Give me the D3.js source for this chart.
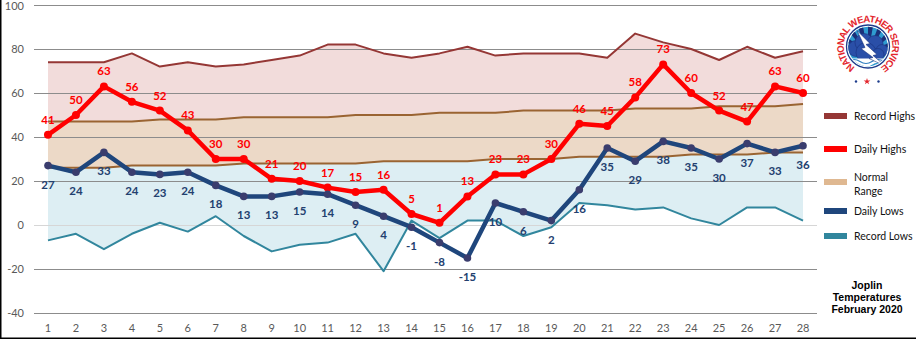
<!DOCTYPE html>
<html><head><meta charset="utf-8">
<script src="https://cdn.jsdelivr.net/npm/d3@7/dist/d3.min.js"></script>
<style>
html,body{margin:0;padding:0;background:#fff;}
svg{display:block;}
</style></head>
<body>
<svg id="chart" width="916" height="339"></svg>
<script>
const days = d3.range(1, 29);
const recordHighs = [74,74,74,78,72,74,72,73,75,77,82,82,78,76,78,81,77,78,78,78,76,87,83,80,75,81,76,79];
const normalHighs = [47,47,47,47,48,48,48,49,49,49,49,50,50,50,51,51,51,52,52,52,52,53,53,53,54,54,54,55];
const normalLows  = [26,26,26,27,27,27,27,28,28,28,28,28,29,29,29,29,30,30,30,31,31,31,31,32,32,32,33,33];
const recordLows  = [-7,-4,-11,-4,1,-3,4,-5,-12,-9,-8,-4,-21,2,-6,2,2,-5,-1,10,9,7,8,3,0,8,8,2];
const dailyHighs  = [41,50,63,56,52,43,30,30,21,20,17,15,16,5,1,13,23,23,30,46,45,58,73,60,52,47,63,60];
const dailyLows   = [27,24,33,24,23,24,18,13,13,15,14,9,4,-1,-8,-15,10,6,2,16,35,29,38,35,30,37,33,36];
const yTicks = [-40,-20,0,20,40,60,80,100];
const legendItems = [
  {name:["Record Highs"], color:"#953735"},
  {name:["Daily Highs"], color:"#ff0000"},
  {name:["Normal","Range"], color:"#dfb891"},
  {name:["Daily Lows"], color:"#1f467c"},
  {name:["Record Lows"], color:"#31869d"}
];
const titleLines = ["Joplin","Temperatures","February 2020"];

const svg = d3.select("#chart");
const x = d3.scaleBand().domain(days).range([34, 817]).padding(0);
const cx = d => x(d) + x.bandwidth()/2;
const y = d3.scaleLinear().domain([-40, 100]).range([313, 5]);

const rows = days.map((d,i)=>({d, rh:recordHighs[i], nh:normalHighs[i], nl:normalLows[i], rl:recordLows[i], hi:dailyHighs[i], lo:dailyLows[i]}));

// areas
const band = (top, bot, fill) => svg.append("path").datum(rows)
  .attr("fill", fill)
  .attr("d", d3.area().x(r=>cx(r.d)).y0(r=>y(r[bot])).y1(r=>y(r[top])));
band("rh","nh","#f2dcdb");
band("nh","nl","#ecd9c7");
band("nl","rl","#ddeef3");

// gridlines
svg.append("g").selectAll("line").data(yTicks).join("line")
  .attr("x1", 34).attr("x2", 817)
  .attr("y1", t=>Math.round(y(t))+0.5).attr("y2", t=>Math.round(y(t))+0.5)
  .attr("stroke", t=> t===0 ? "#d6d6d6" : "#8c8c8c").attr("stroke-width",1);

// y axis labels
svg.append("g").selectAll("text").data(yTicks).join("text")
  .attr("x", 24).attr("y", t=>Math.max(y(t), 6.5)).attr("dy","0.36em")
  .attr("text-anchor","end").attr("font-family","Lato, sans-serif").attr("font-size",11)
  .attr("fill","#595959").text(t=>t);

// x axis labels
svg.append("g").selectAll("text").data(days).join("text")
  .attr("x", d=>cx(d)).attr("y", 332)
  .attr("text-anchor","middle").attr("font-family","Lato, sans-serif").attr("font-size",11)
  .attr("fill","#595959").text(d=>d);

const line = key => d3.line().x(r=>cx(r.d)).y(r=>y(r[key]));
const drawLine = (key, color, w) => svg.append("path").datum(rows)
  .attr("fill","none").attr("stroke",color).attr("stroke-width",w)
  .attr("stroke-linejoin","round").attr("d", line(key));

drawLine("rh","#953735",2);
drawLine("nh","#9a6432",2);
drawLine("nl","#9a6432",2);
drawLine("rl","#31869d",2);

// daily highs
drawLine("hi","#ff0000",4.5);
svg.append("g").selectAll("circle").data(rows).join("circle")
  .attr("cx", r=>cx(r.d)).attr("cy", r=>y(r.hi)).attr("r",4).attr("fill","#ff0000");
// daily lows
drawLine("lo","#1f467c",4.5);
svg.append("g").selectAll("circle").data(rows).join("circle")
  .attr("cx", r=>cx(r.d)).attr("cy", r=>y(r.lo)).attr("r",3.8).attr("fill","#3a3d6e");

// data labels
svg.append("g").selectAll("text").data(rows).join("text")
  .attr("x", r=>cx(r.d)).attr("y", r=>y(r.hi)-11)
  .attr("text-anchor","middle").attr("font-family","Lato, sans-serif").attr("font-weight","bold")
  .attr("font-size",11.5).attr("fill","#ff0000").text(r=>r.hi);
svg.append("g").selectAll("text").data(rows).join("text")
  .attr("x", r=>cx(r.d)).attr("y", r=>y(r.lo)+23)
  .attr("text-anchor","middle").attr("font-family","Lato, sans-serif").attr("font-weight","bold")
  .attr("font-size",11.5).attr("fill","#23406f").text(r=>r.lo);

// legend
const legendTops = [113,146,179,208,233];
const lg = svg.append("g");
legendItems.forEach((it,i)=>{
  const t = legendTops[i];
  lg.append("rect").attr("x",824).attr("y",t).attr("width",23).attr("height",6).attr("fill",it.color);
  const tx = lg.append("text").attr("font-family","Lato, sans-serif").attr("font-size",10.5).attr("fill","#111");
  if (it.name.length===1) {
    tx.append("tspan").attr("x",854).attr("y",t+3).attr("dy","0.35em").text(it.name[0]);
  } else {
    tx.append("tspan").attr("x",854).attr("y",t-1.5).attr("dy","0.35em").text(it.name[0]);
    tx.append("tspan").attr("x",854).attr("y",t+12).attr("dy","0.35em").text(it.name[1]);
  }
});

// title
svg.append("g").selectAll("text").data(titleLines).join("text")
  .attr("x", 867).attr("y",(d,i)=>289+i*12.2)
  .attr("text-anchor","middle").attr("font-family","'Liberation Sans', Arial, sans-serif")
  .attr("font-weight","bold").attr("font-size",10.5).attr("fill","#000").text(d=>d);

// frame
svg.append("line").attr("x1",0.75).attr("x2",0.75).attr("y1",0).attr("y2",339).attr("stroke","#000").attr("stroke-width",1.5);
svg.append("line").attr("x1",0).attr("x2",916).attr("y1",338.25).attr("y2",338.25).attr("stroke","#000").attr("stroke-width",1.5);

// NWS logo
const L = svg.append("g").attr("transform","translate(868,46.5)");
const defs = svg.append("defs");
defs.append("clipPath").attr("id","lc").append("circle").attr("r",19.8);
L.append("circle").attr("r",21.5).attr("fill","#fff").attr("stroke","#1d3c8c").attr("stroke-width",1.3);
const inner = L.append("g").attr("clip-path","url(#lc)");
inner.append("rect").attr("x",-22).attr("y",-22).attr("width",44).attr("height",44).attr("fill","#2f9bd0");
// rays
for (let k=0;k<7;k++){
  const a0 = -150 + k*20, a1 = a0+10;
  const p = (a)=>[30*Math.cos(a*Math.PI/180), 8+30*Math.sin(a*Math.PI/180)];
  const [x0,y0]=p(a0),[x1,y1]=p(a1);
  inner.append("path").attr("d",`M0,8L${x0},${y0}L${x1},${y1}Z`).attr("fill","#1b2f78");
}
inner.append("circle").attr("cx",2).attr("cy",4).attr("r",9).attr("fill","#2f9bd0");
// cloud
const cloud = inner.append("g").attr("fill","#2a4fa8").attr("stroke","#1b3480").attr("stroke-width",0.6);
[[-12,2,8],[-4,-4,9],[7,-3,8],[14,4,6],[-2,6,10],[10,8,6]].forEach(c=>cloud.append("circle").attr("cx",c[0]).attr("cy",c[1]).attr("r",c[2]));
// waves
inner.append("rect").attr("x",-22).attr("y",12).attr("width",44).attr("height",12).attr("fill","#fff");
inner.append("path").attr("d","M-20,15 Q-14,11 -8,15 T4,15 T16,15 T28,15").attr("fill","none").attr("stroke","#2f7fc0").attr("stroke-width",1.2);
inner.append("path").attr("d","M-20,19 Q-14,15 -8,19 T4,19 T16,19 T28,19").attr("fill","none").attr("stroke","#2f9bd0").attr("stroke-width",1.5);
// lightning bolt
inner.append("path").attr("d","M-11,-16 L2,-3 L-2,-2 L9,8 L5,9 L18,20 L1,12 L5,11 L-7,2 L-3,1 Z")
  .attr("fill","#fff").attr("stroke","#1b3480").attr("stroke-width",0.6);
// ring text
const R = 24.3, a0 = -148*Math.PI/180, a1 = 148*Math.PI/180;
defs.append("path").attr("id","ringPath")
  .attr("d",`M${868+R*Math.sin(a0)},${46.5-R*Math.cos(a0)} A${R},${R} 0 1 1 ${868+R*Math.sin(a1)},${46.5-R*Math.cos(a1)}`);
svg.append("text").attr("font-family","'Liberation Sans', Arial, sans-serif").attr("font-weight","bold")
  .attr("font-size",9.6).attr("fill","#e3262d")
  .append("textPath").attr("href","#ringPath").attr("textLength", R*(a1-a0)).attr("lengthAdjust","spacing")
  .text("NATIONAL WEATHER SERVICE");
// stars
svg.append("circle").attr("cx",856).attr("cy",81.5).attr("r",1.2).attr("fill","#1d3c8c");
svg.append("circle").attr("cx",878.5).attr("cy",81.5).attr("r",1.2).attr("fill","#1d3c8c");
const star = d3.symbol().type(d3.symbolStar).size(14);
svg.append("path").attr("d",star()).attr("transform","translate(867,81.5)").attr("fill","#e3262d");
</script>
</body></html>
